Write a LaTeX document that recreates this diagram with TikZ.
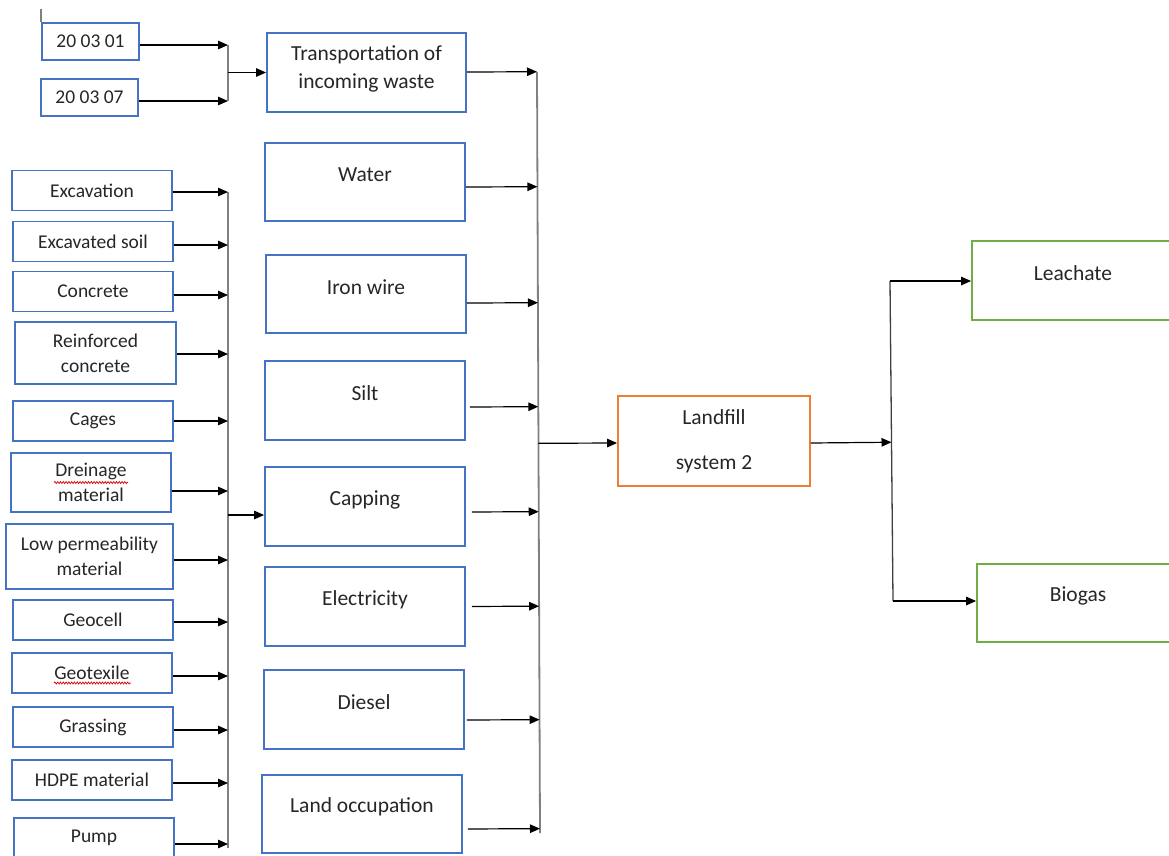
\documentclass[tikz,border=0pt]{standalone}
\usepackage{fontspec}
\setmainfont{Carlito}
\usetikzlibrary{arrows.meta,calc,decorations.pathmorphing}
\definecolor{boxblue}{HTML}{4472C4}
\definecolor{boxorange}{HTML}{ED7D31}
\definecolor{boxgreen}{HTML}{70AD47}
\definecolor{ink}{HTML}{262626}
\definecolor{busgray}{HTML}{808080}
\begin{document}
\begin{tikzpicture}[x=1pt,y=-1pt,
  basebox/.style={draw, line width=1.8pt, inner sep=0pt, align=center, text=ink},
  lbox/.style={basebox, draw=boxblue, minimum width=160pt, minimum height=40pt,
    font=\fontsize{19.5}{25}\selectfont},
  mbox/.style={basebox, draw=boxblue, minimum width=200pt, minimum height=79pt,
    font=\fontsize{21.5}{28}\selectfont},
  mtext/.style={text=ink, inner sep=0pt, yshift=7pt, font=\fontsize{21.5}{28}\selectfont},
  arr/.style={draw=black, line width=1.2pt, -{Triangle[length=10pt,width=8.5pt]}},
  bus/.style={draw=busgray, line width=1.8pt},
  thinbus/.style={draw=black!75, line width=1.3pt},
  squig/.style={draw=red!85!black, line width=0.7pt,
    decorate, decoration={snake, amplitude=1pt, segment length=2.8pt}}]
\useasboundingbox (0,0) rectangle (1169,855);

% waste codes
\node[lbox, minimum width=97pt, minimum height=37pt] (c1) at (90.5,41.5) {20 03 01};
\node[lbox, minimum width=97pt, minimum height=37pt] (c7) at (89.5,97.5) {20 03 07};
\draw[thinbus, draw=busgray] (c1.north west) -- ++(0,-13);

% construction materials
\node[lbox] (exc) at (92,190.5) {Excavation};
\node[lbox] (soil) at (93,241.5) {Excavated soil};
\node[lbox] (conc) at (93,291.5) {Concrete};
\node[lbox, minimum width=161pt, minimum height=62pt] (rc) at (95.5,353) {Reinforced\\concrete};
\node[lbox] (cages) at (93,421) {Cages};
\node[lbox, minimum height=59pt] (drein) at (91,482.5) {Dreinage\\material};
\node[lbox, minimum width=167pt, minimum height=65pt] (lowp) at (89.5,556.5) {Low permeability\\material};
\node[lbox] (geocell) at (93,620) {Geocell};
\node[lbox] (geotex) at (92,673) {Geotexile};
\node[lbox] (grass) at (93,727) {Grassing};
\node[lbox] (hdpe) at (92,780) {HDPE material};
\node[lbox] (pump) at (94,838) {Pump};
\draw[squig] ([xshift=-37pt]drein.center) -- ([xshift=37pt]drein.center);
\draw[squig] ([xshift=-38pt,yshift=-10pt]geotex.center) -- ([xshift=39pt,yshift=-10pt]geotex.center);

% inputs to the landfill
\node[mbox, minimum width=199pt, label={[mtext, yshift=-3.5pt, align=center]center:Transportation of\\incoming waste}] (trans) at (366.5,72.5) {};
\node[mbox, minimum height=78pt, label={[mtext]center:Water}] (water) at (365,182) {};
\node[mbox, minimum height=78pt, label={[mtext]center:Iron wire}] (iron) at (366,294) {};
\node[mbox, label={[mtext]center:Silt}] (silt) at (365,400.5) {};
\node[mbox, label={[mtext]center:Capping}] (capping) at (365,506.5) {};
\node[mbox, label={[mtext]center:Electricity}] (elec) at (365,606.5) {};
\node[mbox, label={[mtext]center:Diesel}] (diesel) at (364,709.5) {};
\node[mbox, minimum height=78pt, label={[mtext]center:Land occupation}] (land) at (362,814) {};

% landfill and outputs
\node[basebox, draw=boxorange, minimum width=192pt, minimum height=90pt,
  font=\fontsize{21.5}{45}\selectfont] (landfill) at (714,441) {Landfill\\system 2};
\node[basebox, draw=boxgreen, minimum width=202pt, minimum height=79pt,
  label={[mtext]center:Leachate}] (leach) at (1073,280.5) {};
\node[basebox, draw=boxgreen, minimum width=202pt, minimum height=78pt,
  label={[mtext]center:Biogas}] (biogas) at (1078,603) {};

% collector lines
\coordinate (busT) at (228,0);
\coordinate (lbTop) at (228,192);
\coordinate (lbBot) at (228,848);
\coordinate (mbTop) at (537,72);
\coordinate (mbBot) at (540,833);
\coordinate (rbTop) at (890,281);
\coordinate (rbBot) at (893,601);

% waste codes -> transportation
\draw[arr] ([yshift=-3.5pt]c1.east) coordinate (s1) -- (s1 -| busT) coordinate (t1);
\draw[arr] ([yshift=-3.5pt]c7.east) coordinate (s7) -- (s7 -| busT) coordinate (t7);
\draw[bus] (t1) -- (t7);
\draw[arr] (trans.west -| busT) -- (trans.west);

% materials -> capping
\draw[bus] (lbTop) -- (lbBot);
\foreach \n/\dy in {exc/-1.5, soil/-3.5, conc/-3.5, rc/-1, cages/0, drein/-8.5,
                    lowp/-3.5, geocell/-2, geotex/-3, grass/-3, hdpe/-3, pump/-6}
  \draw[arr] ([yshift=\dy pt]\n.east) coordinate (s) -- (s -| lbTop);
\path ([yshift=-8.5pt]capping.west) coordinate (capIn);
\draw[arr] (capIn -| lbTop) -- (capIn);

% inputs -> landfill
\draw[bus] (mbTop) -- (mbBot);
\foreach \n/\dy/\gap in {trans/0.5/0, water/-5/0, iron/-9/0, silt/-6.5/4, capping/-5.5/6,
                         elec/0/6, diesel/-10.5/2, land/-15/5}
  \draw[arr, shorten <=\gap pt] ([yshift=\dy pt]\n.east) coordinate (s) -- ($(mbTop)!(s)!(mbBot)$);
\path ([yshift=-2pt]landfill.west) coordinate (lfIn);
\draw[arr] ($(mbTop)!(lfIn)!(mbBot)$) -- (lfIn);

% landfill -> outputs
\draw[arr] ([yshift=-2pt]landfill.east) coordinate (lfOut) -- ($(rbTop)!(lfOut)!(rbBot)$);
\draw[thinbus] (rbTop) -- (rbBot);
\draw[arr] (rbTop) -- (rbTop -| leach.west);
\draw[arr] (rbBot) -- (rbBot -| biogas.west);
\end{tikzpicture}
\end{document}
